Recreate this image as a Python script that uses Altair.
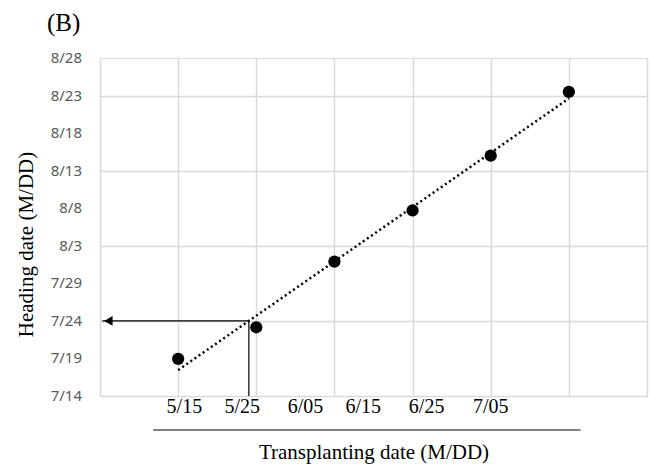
import altair as alt
import pandas as pd
import numpy as np

# ---- data ----
transplant_labels = ["5/15", "5/25", "6/05", "6/15", "6/25", "7/05"]
transplant_index = [1, 2, 3, 4, 5, 6]
# heading date as days after 7/14
heading_days = [4.95, 9.15, 17.9, 24.7, 32.0, 40.5]
y_tick_labels = ["7/14", "7/19", "7/24", "7/29", "8/3", "8/8", "8/13", "8/18", "8/23", "8/28"]
y_tick_values = [0, 5, 10, 15, 20, 25, 30, 35, 40, 45]
x_grid_values = [0, 1, 2, 3, 4, 5, 6, 7]
target_heading = 10  # 7/24 marked with the arrow

# layout constants (label positions in x-scale units)
x_label_pos = [1.08, 1.82, 2.63, 3.37, 4.18, 5.0]
underline_span = [0.68, 6.15]
arrow_tip = 0.03

W, H = 547, 338
SERIF = "Liberation Serif"
SANS = "Noto Sans"

pts = pd.DataFrame({"x": transplant_index, "y": heading_days, "label": transplant_labels})

slope, intercept = np.polyfit(transplant_index, heading_days, 1)
x_cross = (target_heading - intercept) / slope

xscale = alt.Scale(domain=[0, 7], nice=False, zero=False)
yscale = alt.Scale(domain=[0, 45], nice=False, zero=False)

points = alt.Chart(pts).mark_circle(size=150, color="black", opacity=1).encode(
    x=alt.X("x:Q", scale=xscale,
            axis=alt.Axis(values=x_grid_values, labels=False, ticks=False, domain=False,
                          grid=True,
                          title="Transplanting date (M/DD)", titlePadding=45)),
    y=alt.Y("y:Q", scale=yscale,
            axis=alt.Axis(values=y_tick_values, labels=False, ticks=False, domain=False,
                          grid=True,
                          title="Heading date (M/DD)", titlePadding=64, titleY=186)),
)

trend = alt.Chart(pts).transform_regression("x", "y").mark_line(
    color="black", strokeDash=[2, 3], strokeWidth=2.5
).encode(x=alt.X("x:Q", scale=xscale), y=alt.Y("y:Q", scale=yscale))

arrow_df = pd.DataFrame({"x": [x_cross], "x2": [arrow_tip], "y": [target_heading], "y0": [0]})
hline = alt.Chart(arrow_df).mark_rule(color="black", strokeWidth=1.2).encode(
    x=alt.X("x:Q", scale=xscale), x2="x2:Q", y=alt.Y("y:Q", scale=yscale))
vline = alt.Chart(arrow_df).mark_rule(color="black", strokeWidth=1.2).encode(
    x=alt.X("x:Q", scale=xscale), y=alt.Y("y:Q", scale=yscale), y2="y0:Q")
head = alt.Chart(arrow_df).mark_point(shape="triangle-left", filled=True, color="black",
                                      size=95, opacity=1, xOffset=6).encode(
    x=alt.X("x2:Q", scale=xscale), y=alt.Y("y:Q", scale=yscale))

ylab_df = pd.DataFrame({"v": y_tick_values, "label": y_tick_labels})
ylabels = alt.Chart(ylab_df).mark_text(font=SANS, fontSize=15, color="#595959",
                                       align="right", baseline="middle").encode(
    x=alt.value(-18), y=alt.Y("v:Q", scale=yscale), text="label:N")

lab_df = pd.DataFrame({"pos": x_label_pos, "label": transplant_labels})
xlabels = alt.Chart(lab_df).mark_text(font=SERIF, fontSize=20, color="black",
                                      baseline="middle", align="center").encode(
    x=alt.X("pos:Q", scale=xscale), y=alt.value(H + 11), text="label:N")

ul_df = pd.DataFrame({"a": [underline_span[0]], "b": [underline_span[1]]})
underline = alt.Chart(ul_df).mark_rule(color="black", strokeWidth=1.2).encode(
    x=alt.X("a:Q", scale=xscale), x2="b:Q", y=alt.value(H + 34))

tag = alt.Chart(pd.DataFrame({"t": ["(B)"]})).mark_text(
    font=SERIF, fontSize=25, color="black", align="left", baseline="middle"
).encode(x=alt.value(-53), y=alt.value(-35), text="t:N")

chart = alt.layer(points, trend, hline, vline, head, ylabels, xlabels, underline, tag).properties(
    width=W, height=H,
    autosize=alt.AutoSizeParams(type="none"),
    padding={"left": 100, "top": 58, "right": 3, "bottom": 72},
).configure_view(stroke=None).configure(background="white").configure_axis(
    gridColor="#d9d9d9", gridWidth=1.5,
    titleFont=SERIF, titleFontSize=21, titleFontWeight="normal", titleColor="black",
)

chart.save("out.html", embed_options={"renderer": "svg", "actions": False})
